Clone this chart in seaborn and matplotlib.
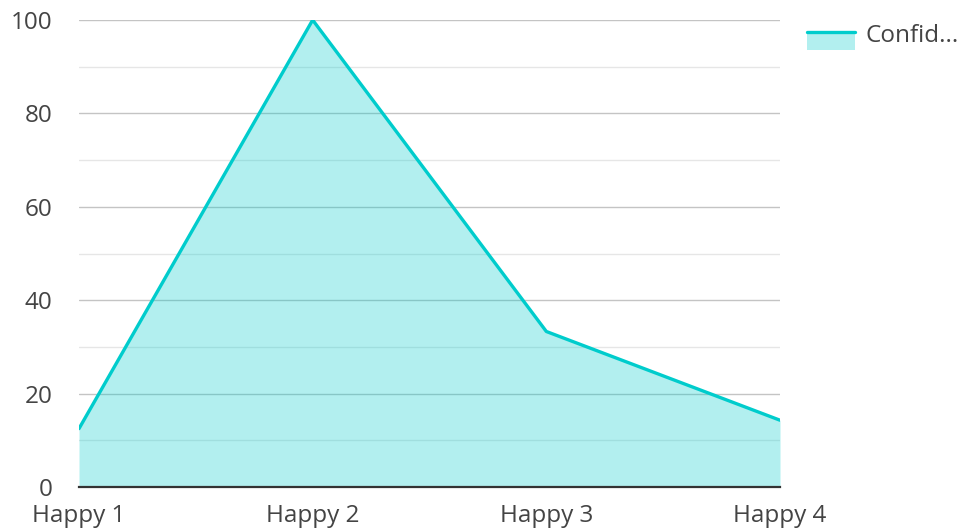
import seaborn as sns
import pandas as pd
import matplotlib.pyplot as plt
from matplotlib.legend_handler import HandlerBase
from matplotlib.patches import Rectangle
from matplotlib.lines import Line2D
from matplotlib.ticker import MultipleLocator

categories = ["Happy 1", "Happy 2", "Happy 3", "Happy 4"]
confidence = [12.5, 100, 33.3, 14.3]
series_name = "Confid..."

LINE = "#00cccc"
FILL = "#b2efef"
TEXT = "#444444"

sns.set_style("white")
plt.rcParams['font.family'] = ['Open Sans', 'DejaVu Sans']


class AreaHandler(HandlerBase):
    # legend key: light fill block with the series line along its top edge
    def create_artists(self, legend, orig_handle, xdescent, ydescent, width, height, fontsize, trans):
        top = height - ydescent - 5
        rect = Rectangle((-xdescent, top - 13), width, 13, facecolor=FILL,
                         edgecolor='none', transform=trans)
        line = Line2D([-xdescent, width - xdescent], [top] * 2,
                      color=LINE, lw=2.4, transform=trans)
        return [rect, line]


df = pd.DataFrame({"x": range(len(categories)), "y": confidence})

fig = plt.figure(figsize=(9.61, 5.31), dpi=100)
ax = fig.add_axes([79 / 961, 44 / 531, 701 / 961, 467 / 531])

ax.fill_between(df["x"], 0, df["y"], color=LINE, alpha=0.3, linewidth=0, zorder=2)
sns.lineplot(data=df, x="x", y="y", ax=ax, color=LINE, linewidth=2.4, zorder=3)

ax.set_xlim(0, len(categories) - 1)
ax.set_ylim(0, 100)
ax.set_xticks(range(len(categories)))
ax.set_xticklabels(categories)
ax.yaxis.set_major_locator(MultipleLocator(20))
ax.yaxis.set_minor_locator(MultipleLocator(10))
ax.grid(which='major', axis='y', color='#c4c4c4', linewidth=1, zorder=1)
ax.grid(which='minor', axis='y', color='#e6e6e6', linewidth=1, zorder=1)
ax.set_axisbelow(True)
ax.set_xlabel("")
ax.set_ylabel("")

for side in ['top', 'right', 'left']:
    ax.spines[side].set_visible(False)
ax.spines['bottom'].set_color('#333333')
ax.spines['bottom'].set_linewidth(1.6)
ax.spines['bottom'].set_zorder(4)

ax.tick_params(axis='y', which='both', length=0, pad=19, labelsize=17.5, labelcolor=TEXT)
ax.tick_params(axis='x', length=0, pad=12, labelsize=17.5, labelcolor=TEXT)

fig.legend([object()], [series_name], handler_map={object: AreaHandler()},
           loc='upper left', bbox_to_anchor=(785 / 961, 1 - 2 / 531), frameon=False,
           fontsize=17.5, handlelength=2.0, handletextpad=0.4, labelcolor=TEXT)

fig.savefig("out.png", dpi=100)
